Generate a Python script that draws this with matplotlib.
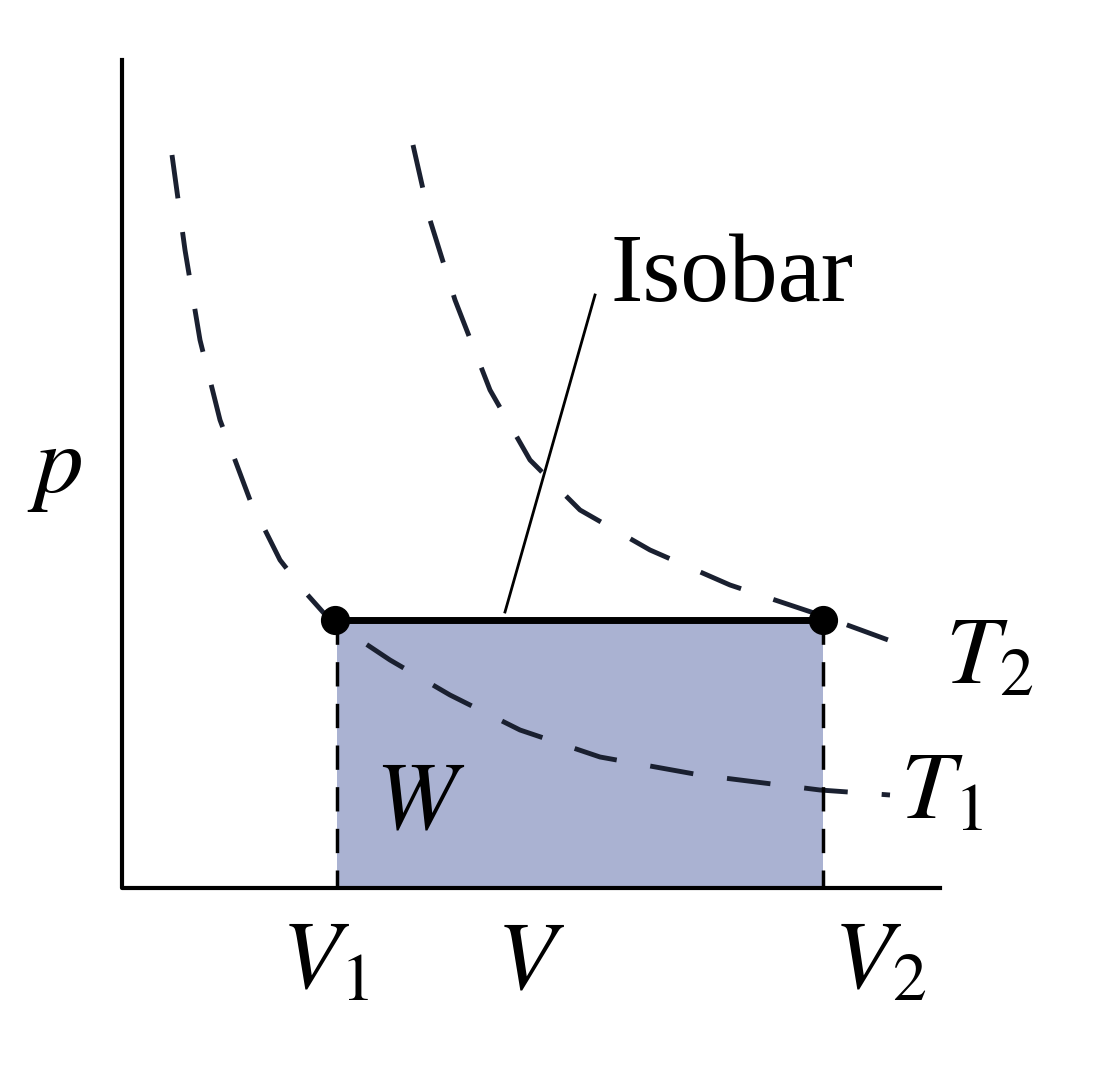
import matplotlib.pyplot as plt

plt.rcParams['font.family'] = ['Liberation Serif', 'DejaVu Serif']
plt.rcParams['mathtext.fontset'] = 'stix'

# picture coordinates (pixels, y downwards)
origin = (122, 888)
v1, v2, p_iso = 337, 823, 620
t1_x = [172, 185, 200, 220, 250, 280, 305, 330, 390, 450, 520, 600, 700, 820, 890]
t1_y = [155, 250, 340, 420, 500, 560, 592, 620, 660, 695, 730, 757, 775, 790, 795]
t2_x = [413, 430, 455, 490, 530, 580, 650, 730, 820, 910]
t2_y = [145, 220, 300, 390, 460, 510, 550, 585, 615, 648]

fig = plt.figure(figsize=(11.08, 10.74), dpi=100)
ax = fig.add_axes([0, 0, 1, 1])
ax.set_xlim(0, 1108)
ax.set_ylim(1074, 0)
ax.axis('off')

ax.fill_between([v1, v2], [p_iso, p_iso], [origin[1], origin[1]], color='#aab2d2', lw=0)
ax.plot([origin[0], origin[0], 940], [60, origin[1], origin[1]], color='black', lw=3)
ax.plot(t1_x, t1_y, color='#1a2030', lw=3.5, dashes=(9, 7))
ax.plot(t2_x, t2_y, color='#1a2030', lw=3.5, dashes=(9, 7))
for v in (v1, v2):
    ax.plot([v, v], [p_iso, origin[1]], color='black', lw=2.5, dashes=(7, 5))
ax.plot([v1, v2], [p_iso, p_iso], color='black', lw=5)
ax.plot([v1 - 2, v2], [p_iso, p_iso], 'o', color='black', ms=20)
ax.plot([505, 595], [612, 295], color='black', lw=2)

fs = 70
ax.text(610, 278, 'Isobar', fontsize=fs, va='center')
ax.text(55, 470, '$p$', fontsize=fs, va='center', ha='center')
ax.text(945, 660, '$T_2$', fontsize=fs, va='center')
ax.text(900, 795, '$T_1$', fontsize=fs, va='center')
ax.text(420, 805, '$W$', fontsize=fs, va='center', ha='center')
ax.text(325, 965, '$V_1$', fontsize=fs, va='center', ha='center')
ax.text(530, 965, '$V$', fontsize=fs, va='center', ha='center')
ax.text(880, 965, '$V_2$', fontsize=fs, va='center', ha='center')

fig.savefig('out.png', dpi=100)
